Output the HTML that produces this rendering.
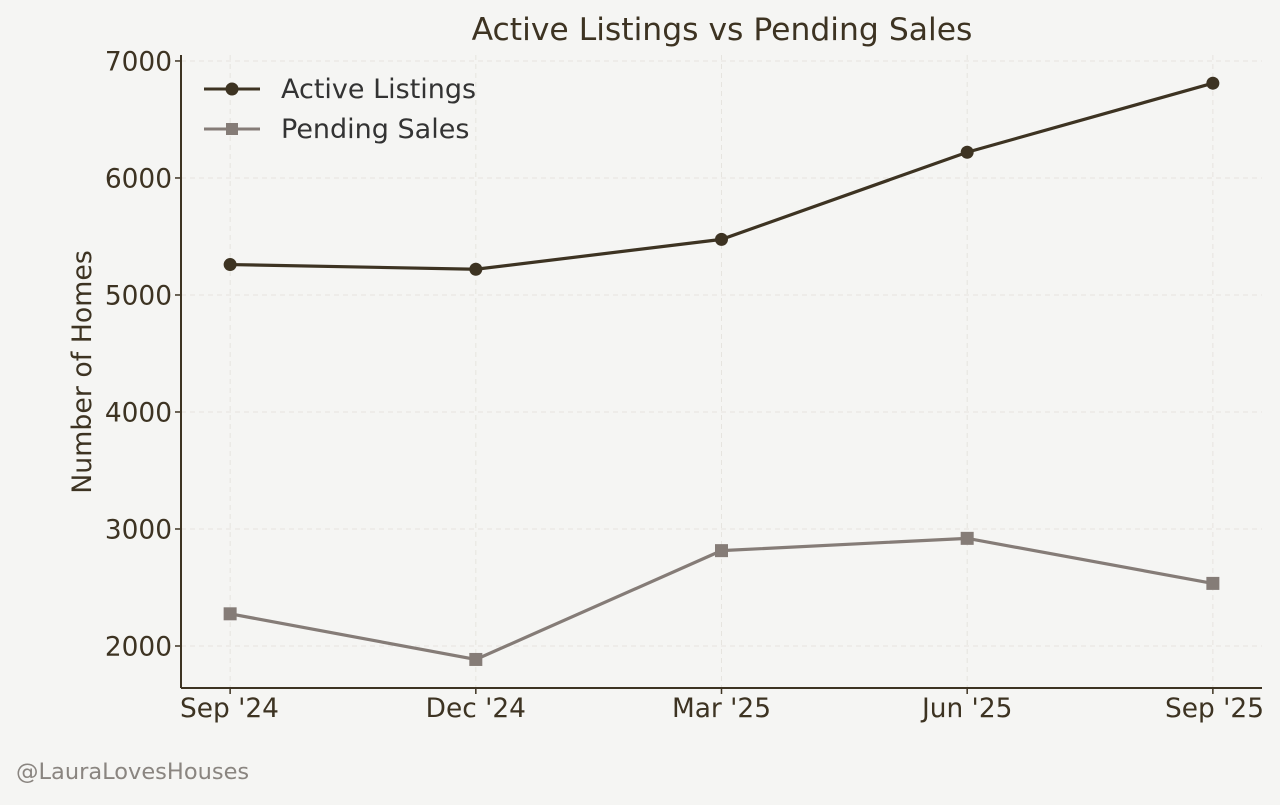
<!DOCTYPE html>
<html><head><meta charset="utf-8"><style>
body{margin:0;background:#f5f5f3;}
svg text{font-family:"DejaVu Sans","Liberation Sans",sans-serif;}
</style></head><body>
<svg id="chart" width="1280" height="800" xmlns="http://www.w3.org/2000/svg">
<rect width="1280" height="800" fill="#f5f5f3"/>
<g id="grid"></g><g id="axes"></g><g id="series"></g>
<text x="722" y="40" text-anchor="middle" font-size="31.4" fill="#3d3322">Active Listings vs Pending Sales</text>
<text transform="translate(91,372) rotate(-90)" text-anchor="middle" font-size="26.8" fill="#3d3322">Number of Homes</text>
<text x="16" y="779" font-size="22.5" fill="#8a8580">@LauraLovesHouses</text>
<g>
<g>
<line x1="204" y1="89" x2="260" y2="89" stroke="#3d3322" stroke-width="3"/><circle cx="232" cy="89" r="6.5" fill="#3d3322"/>
<text x="281" y="98" font-size="27" fill="#333">Active Listings</text></g>
<g>
<line x1="204" y1="129" x2="260" y2="129" stroke="#857c77" stroke-width="3"/><rect x="226" y="123" width="12" height="12" fill="#857c77"/>
<text x="281" y="138" font-size="27" fill="#333">Pending Sales</text></g>
</g>
</svg>
<script>
const categories=["Sep '24","Dec '24","Mar '25","Jun '25","Sep '25"];
const activeListings=[5260,5220,5475,6220,6810];
const pendingSales=[2275,1885,2815,2920,2535];
const yTicks=[2000,3000,4000,5000,6000,7000];
const NS="http://www.w3.org/2000/svg";
const L=181,R=1262,T=55,B=688,yMin=1641,yMax=7051;
const step=(R-L)/(categories.length-1+0.4);
function x(i){return L+step*(0.2+i);}
function y(v){return B-(v-yMin)/(yMax-yMin)*(B-T);}
function mk(t,a,p){const e=document.createElementNS(NS,t);for(const k in a)e.setAttribute(k,a[k]);p.appendChild(e);return e;}
const grid=document.getElementById('grid'),axes=document.getElementById('axes'),ser=document.getElementById('series');
yTicks.forEach(v=>{
 const g=mk('line',{x1:L,x2:R,y1:y(v),y2:y(v),stroke:'#e6e4df','stroke-dasharray':'5,4','stroke-width':1},grid);
 
 
 mk('line',{x1:L-6,x2:L,y1:y(v),y2:y(v),stroke:'#3d3322','stroke-width':1.5},axes);
 const t=mk('text',{x:L-9,y:y(v)+9.5,'text-anchor':'end','font-size':26.4,fill:'#3d3322'},axes);t.textContent=v;
 
 
});
categories.forEach((c,i)=>{
 const g=mk('line',{x1:x(i),x2:x(i),y1:T,y2:B,stroke:'#e6e4df','stroke-dasharray':'5,4','stroke-width':1},grid);
 
 
 mk('line',{x1:x(i),x2:x(i),y1:B,y2:B+6,stroke:'#3d3322','stroke-width':1.5},axes);
 let anchor='middle',xx=x(i);
 if(i===0){anchor='start';xx=L-1;} if(i===categories.length-1){anchor='end';xx=R+2;}
 const t=mk('text',{x:xx,y:B+29,'text-anchor':anchor,'font-size':26.4,fill:'#3d3322'},axes);t.textContent=c;
 
 
});
mk('line',{x1:L,x2:L,y1:T,y2:B,stroke:'#3d3322','stroke-width':2},axes);
mk('line',{x1:L,x2:R,y1:B,y2:B,stroke:'#3d3322','stroke-width':2},axes);
function draw(vals,col,sq,name){
 const p=mk('polyline',{points:vals.map((v,i)=>x(i)+','+y(v)).join(' '),fill:'none',stroke:col,'stroke-width':3.2},ser);
 
 
 vals.forEach((v,i)=>{
  const m=sq?mk('rect',{x:x(i)-6.5,y:y(v)-6.5,width:13,height:13,fill:col},ser):mk('circle',{cx:x(i),cy:y(v),r:6.5,fill:col},ser);
  
  
 });
}
draw(activeListings,'#3d3322',false,'active-listings');
draw(pendingSales,'#857c77',true,'pending-sales');
</script>
</body></html>
